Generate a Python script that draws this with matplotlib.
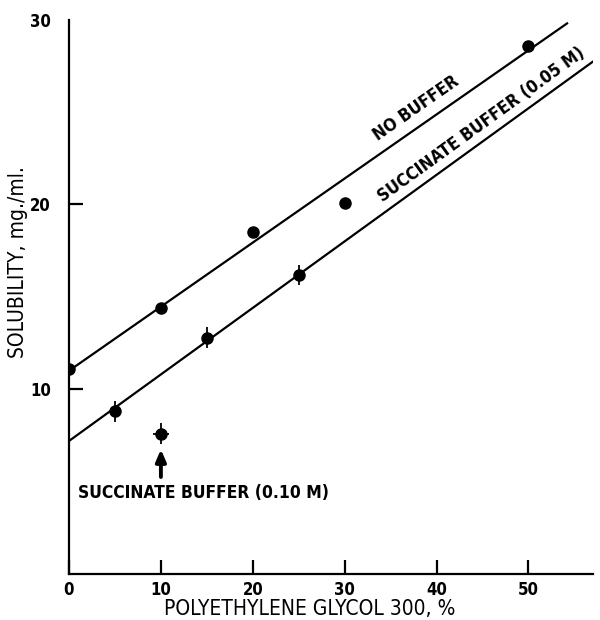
import matplotlib.pyplot as plt
import numpy as np

# data
no_buf_x = [0, 10, 20, 30, 50]
no_buf_y = [11.1, 14.4, 18.5, 20.1, 28.6]
succ05_x = [5, 15, 25]
succ05_y = [8.8, 12.8, 16.2]
succ10_x = [10]
succ10_y = [7.6]

# fitted lines as drawn in the original
no_buf_line_x = [0, 54.2]
no_buf_line_y = [11.0, 29.8]
succ05_line_x = [0, 57.2]
succ05_line_y = [7.2, 27.8]

xticks = [0, 10, 20, 30, 40, 50]
yticks = [10, 20, 30]

bold = dict(family="DejaVu Sans", stretch="condensed", weight="bold")
plain = dict(family="DejaVu Sans", stretch="condensed")

fig = plt.figure(figsize=(6, 6.2), dpi=100)
ax = fig.add_axes([0.115, 0.0742, 0.873, 0.894])

ax.plot(no_buf_line_x, no_buf_line_y, color="black", lw=1.6)
ax.plot(succ05_line_x, succ05_line_y, color="black", lw=1.6)

ax.plot(no_buf_x, no_buf_y, "o", color="black", ms=8)
ax.errorbar(succ05_x, succ05_y, yerr=0.55, fmt="o", color="black", ms=8,
            elinewidth=1.3, capsize=0)
ax.errorbar(succ10_x, succ10_y, yerr=0.55, xerr=0.9, fmt="o", color="black",
            ms=8, elinewidth=1.3, capsize=0)

# arrow pointing at the 0.10 M point
ax.annotate("", xy=(10, 6.9), xytext=(10, 5.1),
            arrowprops=dict(arrowstyle="-|>,head_length=0.7,head_width=0.3",
                            color="black", lw=2.8))

ax.text(1.0, 4.4, "SUCCINATE BUFFER (0.10 M)", fontsize=12.5, va="center",
        ha="left", **bold)

# labels along the lines
ang1 = np.degrees(np.arctan2(no_buf_line_y[1] - no_buf_line_y[0],
                             no_buf_line_x[1] - no_buf_line_x[0]))
ang2 = np.degrees(np.arctan2(succ05_line_y[1] - succ05_line_y[0],
                             succ05_line_x[1] - succ05_line_x[0]))
ax.text(37.8, 25.2, "NO BUFFER", rotation=ang1, rotation_mode="anchor",
        transform_rotates_text=True, ha="center", va="center", fontsize=12.5,
        **bold)
ax.text(44.9, 24.3, "SUCCINATE BUFFER (0.05 M)", rotation=ang2,
        rotation_mode="anchor", transform_rotates_text=True, ha="center",
        va="center", fontsize=12.5, **bold)

ax.set_xlim(0, 57)
ax.set_ylim(0, 30)
ax.set_xticks(xticks)
ax.set_yticks(yticks)
ax.set_xticklabels([str(t) for t in xticks], fontsize=12, **bold)
ax.set_yticklabels([str(t) for t in yticks], fontsize=12, **bold)
ax.tick_params(direction="in", length=10, width=1.6)
ax.tick_params(axis="x", pad=5)
ax.tick_params(axis="y", pad=13)
ax.yaxis.get_major_ticks()[-1].tick1line.set_visible(False)

for s in ["top", "right"]:
    ax.spines[s].set_visible(False)
for s in ["left", "bottom"]:
    ax.spines[s].set_linewidth(1.6)

ax.set_xlabel("POLYETHYLENE GLYCOL 300, %", fontsize=15, **plain)
ax.set_ylabel("SOLUBILITY, mg./ml.", fontsize=15, **plain)
ax.xaxis.set_label_coords(0.46, -0.046)
ax.yaxis.set_label_coords(-0.078, 0.563)

fig.savefig("out.png")
plt.close(fig)
